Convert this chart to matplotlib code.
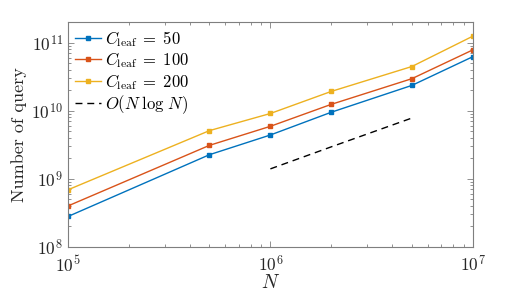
import matplotlib
matplotlib.use("Agg")
import matplotlib.pyplot as plt
from matplotlib.ticker import LogLocator, NullFormatter

plt.rcParams['font.family'] = 'cmr10'
plt.rcParams['mathtext.fontset'] = 'cm'
plt.rcParams['axes.formatter.use_mathtext'] = True

# data
N = [1e5, 5e5, 1e6, 2e6, 5e6, 1e7]
q_50 = [2.8e8, 2.26e9, 4.4e9, 9.5e9, 2.35e10, 6.2e10]
q_100 = [4.0e8, 3.1e9, 5.9e9, 1.24e10, 2.95e10, 7.8e10]
q_200 = [6.9e8, 5.1e9, 9.1e9, 1.92e10, 4.45e10, 1.24e11]
ref_N = [1e6, 2e6, 5e6]
ref_q = [1.4e9, 2.95e9, 7.8e9]

labels = [r'$C_{\mathrm{leaf}}\;=\;50$', r'$C_{\mathrm{leaf}}\;=\;100$',
          r'$C_{\mathrm{leaf}}\;=\;200$', r'$O(N\;\log\,N)$']
colors = ['#0072BD', '#D95319', '#EDB120']

fig = plt.figure(figsize=(5.23, 2.94), dpi=100)
ax = fig.add_axes([0.130, 0.160, 0.774, 0.765])

for y, c, lab in zip([q_50, q_100, q_200], colors, labels[:3]):
    ax.plot(N, y, '-s', color=c, lw=1.0, ms=3, markerfacecolor=c, label=lab)
ax.plot(ref_N, ref_q, '--', color='k', lw=1.0, dashes=(5, 3.5), label=labels[3])

ax.set_xscale('log')
ax.set_yscale('log')
ax.set_xlim(1e5, 1e7)
ax.set_ylim(1e8, 2e11)

ax.xaxis.set_major_locator(LogLocator(base=10, numticks=10))
ax.yaxis.set_major_locator(LogLocator(base=10, numticks=10))
ax.xaxis.set_minor_locator(LogLocator(base=10, subs=range(2, 10), numticks=20))
ax.yaxis.set_minor_locator(LogLocator(base=10, subs=range(2, 10), numticks=20))
ax.xaxis.set_minor_formatter(NullFormatter())
ax.yaxis.set_minor_formatter(NullFormatter())

axcol = '#7f7f7f'
for s in ax.spines.values():
    s.set_color(axcol)
    s.set_linewidth(0.8)
ax.tick_params(which='both', direction='in', top=True, right=True, color=axcol,
               labelcolor='#262626', labelsize=12.5)
ax.tick_params(which='major', length=4, width=0.6)
ax.tick_params(which='minor', length=2.5, width=0.6)
ax.tick_params(axis='x', pad=5)

ax.set_xlabel(r'$N$', fontsize=14, color='#262626', labelpad=0)
ax.set_ylabel('Number of query', fontsize=13, color='#262626', labelpad=3)

ax.legend(loc='upper left', frameon=False, fontsize=12, handlelength=1.6,
          handletextpad=0.2, labelspacing=0.1, borderaxespad=0.1,
          borderpad=0.3)

fig.savefig('out.png', dpi=100)
